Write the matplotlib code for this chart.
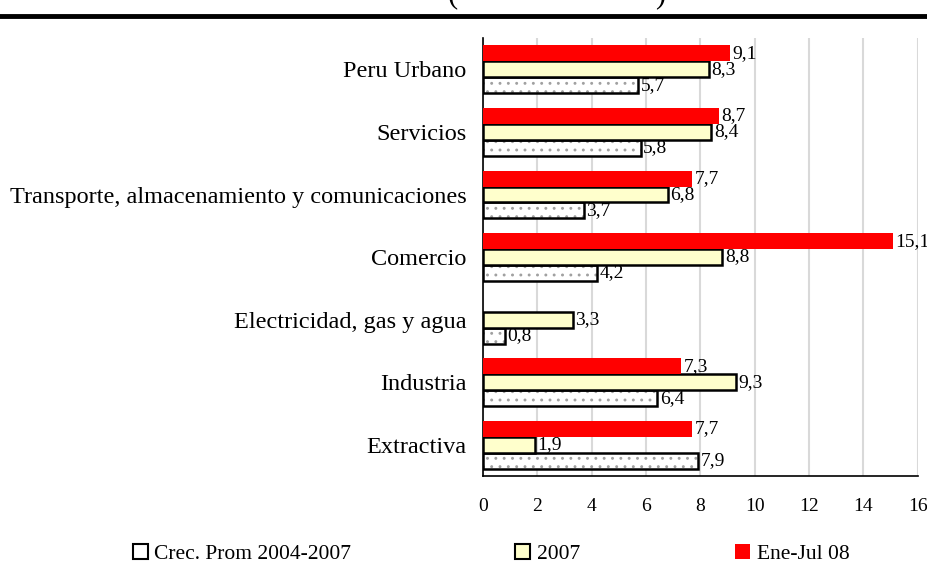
import matplotlib
matplotlib.use("Agg")
import matplotlib.pyplot as plt
from matplotlib.patches import Patch
import numpy as np

plt.rcParams['font.family'] = ['Liberation Serif', 'DejaVu Serif']
plt.rcParams['hatch.linewidth'] = 0.9

# data (bottom to top)
categorias = ["Extractiva", "Industria", "Electricidad, gas y agua", "Comercio",
              "Transporte, almacenamiento y comunicaciones", "Servicios", "Peru Urbano"]
crec_prom = [7.9, 6.4, 0.8, 4.2, 3.7, 5.8, 5.7]
anio_2007 = [1.9, 9.3, 3.3, 8.8, 6.8, 8.4, 8.3]
ene_jul = [7.7, 7.3, None, 15.1, 7.7, 8.7, 9.1]
series_names = ["Crec. Prom 2004-2007", "2007", "Ene-Jul 08"]


def fmt(v):
    return ("%.1f" % v).replace(".", ",")


fig = plt.figure(figsize=(9.28, 5.65), dpi=100)
ax = fig.add_axes([0.5205, 0.1575, 0.4685, 0.775])

y = np.arange(len(categorias))
h = 0.255

# hatched bars: gray hatch first, then black outline on top
ax.barh(y - h, crec_prom, height=h, color="white", edgecolor="#a0a0a0",
        hatch="..", linewidth=0, zorder=2)
ax.barh(y - h, crec_prom, height=h, color="none", edgecolor="black",
        linewidth=1.8, zorder=3)
for yi, v in zip(y, crec_prom):
    ax.text(v + 0.1, yi - h, fmt(v), va="center", ha="left", fontsize=14, zorder=2)

ax.barh(y, anio_2007, height=h, color="#ffffcc", edgecolor="black",
        linewidth=1.8, zorder=3)
for yi, v in zip(y, anio_2007):
    ax.text(v + 0.1, yi, fmt(v), va="center", ha="left", fontsize=14, zorder=2)

ene_vals = [0 if v is None else v for v in ene_jul]
ax.barh(y + h, ene_vals, height=h, color="#ff0000", linewidth=0, zorder=3)
for yi, v in zip(y, ene_jul):
    if v is not None:
        ax.text(v + 0.08, yi + h, fmt(v), va="center", ha="left", fontsize=14, zorder=2)

ax.set_xlim(0, 16)
ax.set_ylim(-0.5, 6.5)
ax.set_xticks(np.arange(0, 17, 2))
ax.set_yticks(y)
ax.set_yticklabels(categorias, fontsize=17.5)
ax.tick_params(axis="x", labelsize=14, length=0, pad=16)
ax.tick_params(axis="y", length=0, pad=12)
ax.grid(axis="x", color="#d9d9d9", linewidth=1.5, zorder=0)
ax.set_axisbelow(True)
for s in ["top", "right"]:
    ax.spines[s].set_visible(False)
ax.spines["left"].set_linewidth(1.2)
ax.spines["bottom"].set_linewidth(1.2)

# thick rule at top and cut-off title parentheses
fig.add_artist(plt.Line2D([0, 1], [0.972, 0.972], color="black", linewidth=3.5))
fig.text(0.488, 1.01, "(", fontsize=22, ha="center", va="center")
fig.text(0.711, 1.01, ")", fontsize=22, ha="center", va="center")

# legend
handles = [
    Patch(facecolor="white", edgecolor="black", linewidth=1.5),
    Patch(facecolor="#ffffcc", edgecolor="black", linewidth=1.5),
    Patch(facecolor="#ff0000", edgecolor="#ff0000", linewidth=0),
]
xs = [0.143, 0.555, 0.792]
for hd, name, x0 in zip(handles, series_names, xs):
    fig.legend(handles=[hd], labels=[name], loc="center left",
               bbox_to_anchor=(x0, 0.02), frameon=False, fontsize=15.5,
               handlelength=0.7, handleheight=0.7, handletextpad=0.3,
               borderpad=0, borderaxespad=0)

fig.savefig("out.png", dpi=100)
